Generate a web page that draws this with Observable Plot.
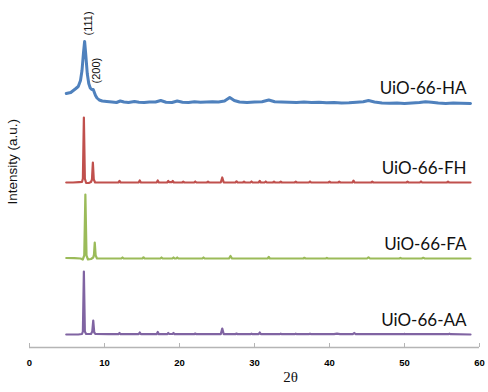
<!DOCTYPE html>
<html><head><meta charset="utf-8">
<script src="https://cdn.jsdelivr.net/npm/d3@7"></script>
<script src="https://cdn.jsdelivr.net/npm/@observablehq/plot@0.6"></script>
<style>body{margin:0;background:#fff}</style>
</head><body><div id="chart"></div>
<script>
const sampleNames = ["UiO-66-HA", "UiO-66-FH", "UiO-66-FA", "UiO-66-AA"];
const sampleColors = ["#4f81bd", "#c0504d", "#9bbb59", "#8064a2"];
const stackOffsets = [245, 165, 89, 13];
const xTicks = [0, 10, 20, 30, 40, 50, 60];
const peakLabels = ["(111)", "(200)"];
const peakPositions = [7.35, 8.5];

// [2θ, intensity (a.u.)]
const patternHA = [[4.9,9],[5.5,10],[6.1,13.5],[6.5,16],[6.8,22],[7.0,32],[7.2,50],[7.35,61],[7.5,48],[7.7,29],[7.9,19],[8.1,14.5],[8.3,13],[8.5,13],[8.65,10],[8.8,7],[9.0,4.5],[9.3,2.5],[9.7,1.5],[10.3,1],[11.0,0.5],[11.6,0],[12.1,1.5],[12.6,0.5],[13.2,0],[14.0,1],[14.6,0.3],[15.3,0],[16.0,0.5],[16.8,0.5],[17.5,2],[18.2,0.3],[19.0,0],[19.7,1.5],[20.4,0.3],[21.2,0],[22.0,0.8],[22.8,0.3],[23.6,0.5],[24.4,0.8],[25.2,0.5],[26.0,1.5],[26.7,5],[27.3,2],[28.0,0.5],[29.0,0],[30.0,0.5],[31.0,0.8],[31.9,2.5],[32.7,0.8],[33.6,0.5],[34.6,0.3],[35.6,0],[36.6,0.5],[37.6,0],[38.6,0.3],[39.6,-0.3],[40.6,0],[41.6,-0.5],[42.6,-0.3],[43.6,0.3],[44.5,0.8],[45.2,2],[46.0,0.5],[47.0,-0.5],[48.0,-0.8],[49.0,-0.5],[50.0,-1],[51.0,-0.5],[52.0,0],[52.8,0.8],[53.6,0.3],[54.5,-0.5],[55.5,-1],[56.5,-0.5],[57.5,-0.8],[58.8,-1]];
const patternFH = [[4.9,0],[5.8,0],[6.6,0.3],[7.0,0.5],[7.12,4],[7.25,65],[7.38,4],[7.55,-0.5],[7.9,-0.5],[8.2,0.5],[8.33,3],[8.45,20],[8.57,3],[8.75,0],[10.5,0],[11.85,0],[12.0,1.5],[12.15,0],[14.55,0],[14.7,2],[14.85,0],[16.95,0],[17.1,2],[17.25,0],[18.35,0],[18.5,1.5],[18.65,0.3],[18.95,0.3],[19.1,1.5],[19.25,0],[20.35,0],[20.5,0.8],[20.65,0],[21.95,0],[22.1,1],[22.25,0],[23.65,0],[23.8,0.8],[23.95,0],[25.5,0],[25.7,5],[25.9,0],[27.45,0],[27.6,1.2],[27.75,0],[28.45,0],[28.6,0.8],[28.75,0],[29.45,0],[29.6,1],[29.75,0],[30.55,0],[30.7,1.5],[30.85,0],[31.35,0],[31.5,1],[31.65,0],[32.45,0],[32.6,0.8],[32.75,0],[33.35,0],[33.5,0.8],[33.65,0],[35.35,0],[35.5,0.8],[35.65,0],[37.25,0],[37.4,1],[37.55,0],[39.85,0],[40.0,0.8],[40.15,0],[41.15,0],[41.3,0.8],[41.45,0],[43.05,0],[43.2,1.8],[43.35,0],[45.55,0],[45.7,0.8],[45.85,0],[50.25,0],[50.4,0.8],[50.55,0],[52.05,0],[52.2,1],[52.35,0],[55.65,0],[55.8,0.8],[55.95,0],[58.8,0]];
const patternFA = [[4.9,0.5],[6.0,0.3],[6.8,0],[7.1,-1],[7.3,3],[7.45,64],[7.6,3],[7.8,-1],[8.2,-0.5],[8.5,1],[8.6,4],[8.7,16],[8.82,3],[9.0,0],[10.5,0],[12.25,0],[12.4,1],[12.55,0],[15.05,0],[15.2,1.2],[15.35,0],[17.45,0],[17.6,1],[17.75,0],[19.05,0],[19.2,1],[19.35,0],[19.55,0],[19.7,1],[19.85,0],[23.05,0],[23.2,1],[23.35,0],[26.6,0],[26.8,2.5],[27.0,0],[31.75,0],[31.9,1.5],[32.05,0],[36.5,0],[36.65,0.7],[36.8,0],[39.5,0],[39.65,0.6],[39.8,0],[45.0,0],[45.2,1.2],[45.4,0],[49.3,0],[49.45,0.6],[49.6,0],[52.3,0],[52.5,0.7],[52.7,0],[58.8,0]];
const patternAA = [[4.9,0],[6.5,0],[7.0,0.5],[7.12,3],[7.25,63],[7.38,3],[7.55,0.5],[8.2,0.5],[8.37,3],[8.5,14],[8.63,2],[8.8,0.5],[10.5,0.3],[11.85,0.3],[12.0,1.5],[12.15,0.3],[14.55,0.3],[14.7,2],[14.85,0.3],[16.95,0.3],[17.1,2.5],[17.25,0.3],[18.35,0.3],[18.5,1.5],[18.65,0.5],[19.05,0.5],[19.2,1.5],[19.35,0.3],[21.95,0.3],[22.1,1],[22.25,0.3],[25.5,0.3],[25.7,6],[25.9,0.3],[27.45,0.3],[27.6,1],[27.75,0.3],[29.45,0.3],[29.6,0.8],[29.75,0.3],[30.55,0.3],[30.7,2],[30.85,0.3],[33.35,0.3],[33.5,0.8],[33.65,0.3],[35.35,0.3],[35.5,0.8],[35.65,0.3],[37.25,0.3],[37.4,0.8],[37.55,0.3],[40.6,0.3],[41.0,0.8],[41.4,0.3],[43.1,0.3],[43.3,1.5],[43.5,0.3],[49.85,0.3],[50.0,0.6],[50.15,0.3],[55.85,0.3],[56.0,0.8],[56.15,0.3],[58.8,0]];

const patterns = [patternHA, patternFH, patternFA, patternAA];
const rows = patterns.flatMap((p, i) => p.map(([t, v]) => ({sample: sampleNames[i], twoTheta: t, value: v + stackOffsets[i]})));
const labelRows = sampleNames.map((s, i) => ({sample: s, twoTheta: patterns[i][patterns[i].length - 1][0], value: stackOffsets[i]}));
const peakRows = peakLabels.map((l, i) => {
  const pt = patternHA.find(d => d[0] === peakPositions[i]);
  return {label: l, twoTheta: peakPositions[i], value: pt[1] + stackOffsets[0]};
});

const chart = Plot.plot({
  width: 488, height: 392,
  marginLeft: 29, marginRight: 9, marginTop: 5, marginBottom: 45,
  style: {background: "#fff", fontFamily: "'Liberation Sans', Arial, sans-serif", overflow: "visible"},
  x: {domain: [0, 60]},
  y: {domain: [0, 342], axis: null},
  color: {domain: sampleNames, range: sampleColors},
  marks: [
    Plot.ruleY([0], {stroke: "#b5b5b5", strokeWidth: 1.3}),
    Plot.axisX(xTicks, {tickSize: -4, tickPadding: 16, stroke: "#b5b5b5", fill: "#000", fontWeight: "bold", fontSize: 9.5, label: null}),
    Plot.line(rows.filter(d => d.sample !== sampleNames[0]), {x: "twoTheta", y: "value", z: "sample", stroke: "sample", strokeWidth: 2.2}),
    Plot.line(rows.filter(d => d.sample === sampleNames[0]), {x: "twoTheta", y: "value", z: "sample", stroke: "sample", strokeWidth: 3}),
    Plot.text(labelRows, {x: "twoTheta", y: "value", text: "sample", textAnchor: "end", dx: -4, dy: -14, fontSize: 17, fontFamily: "Lato", fill: "#111"}),
    Plot.text(peakRows, {x: "twoTheta", y: "value", text: "label", rotate: -90, textAnchor: "start", dx: 3.5, dy: -6, fontSize: 11, fill: "#111"}),
    Plot.text(["2θ"], {frameAnchor: "bottom", dx: 36, dy: 34, fontSize: 15, fontFamily: "'Liberation Serif', serif", fill: "#111"}),
    Plot.text(["Intensity (a.u.)"], {frameAnchor: "left", rotate: -90, dx: -17, dy: 28, fontSize: 13.5, fill: "#111"})
  ]
});
document.getElementById("chart").appendChild(chart);
</script>
</body></html>
